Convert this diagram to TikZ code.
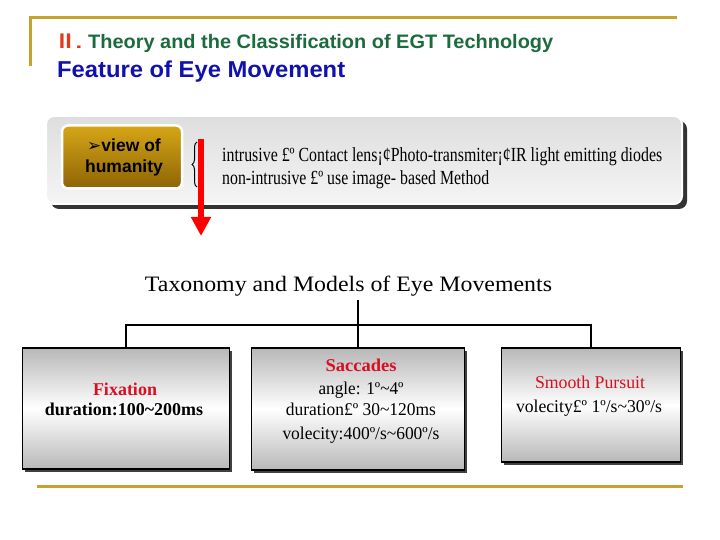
\documentclass[tikz,border=0pt]{standalone}
\usepackage{fontspec}
\setmainfont{Liberation Serif}
\newfontfamily\arialf{Liberation Sans}
\newfontfamily\djv{DejaVu Sans}
\usetikzlibrary{arrows.meta,shadows,decorations.pathreplacing}
\newcommand\fitx[2]{\resizebox{#1}{\height}{#2}}
\definecolor{goldl}{RGB}{200,162,46}
\definecolor{tred}{RGB}{230,56,26}
\definecolor{tgreen}{RGB}{27,107,62}
\definecolor{fblue}{RGB}{17,17,176}
\definecolor{bred}{RGB}{214,16,32}
\definecolor{btop}{RGB}{214,166,22}
\definecolor{bbot}{RGB}{140,100,6}
\tikzset{
  txt/.style={anchor=base, inner sep=0pt},
  tree/.style={draw=black, line width=1.5pt},
  catbox/.style={draw=black, line width=1.5pt, top color=black!28, bottom color=black!28, middle color=white,
     drop shadow={shadow xshift=2.5pt, shadow yshift=-2.5pt, fill=black!75, opacity=1}},
  goldrule/.style={draw=goldl, line width=3pt}
}
\begin{document}
\begin{tikzpicture}[x=1pt,y=-1pt]
\useasboundingbox[fill=white] (0,0) rectangle (720,540);
% gold rules
\coordinate (g0) at (30,66);
\coordinate (g1) at (30,18);
\coordinate (g2) at (677,18);
\draw[goldrule] (g0) -- (g1) -- (g2);
\coordinate (g3) at (37,486);
\coordinate (g4) at (683,486);
\draw[goldrule] (g3) -- (g4);
% titles
\node[anchor=base west, inner sep=0pt, text=tred] (rn) at (57,49) {\djv\fontsize{20}{20}\selectfont\fitx{27pt}{Ⅱ.}};
\node[anchor=base west, inner sep=0pt, text=tgreen] (t1) at (88,49) {\arialf\bfseries\fontsize{19.5}{19.5}\selectfont\fitx{465pt}{Theory and the Classification of EGT Technology}};
\node[anchor=base west, inner sep=0pt, text=fblue] (t2) at (57,78) {\arialf\bfseries\fontsize{23}{23}\selectfont\fitx{288pt}{Feature of Eye Movement}};
% panel
\node[draw=white, line width=2pt, rounded corners=8pt, top color=black!13, bottom color=black!4,
      minimum width=636pt, minimum height=88pt, inner sep=0pt,
      drop shadow={shadow xshift=5pt, shadow yshift=-5pt, fill=black!80, opacity=1}] (pan) at (364,160) {};
\node[draw=white, line width=2.5pt, rounded corners=6pt, top color=btop, bottom color=bbot,
      minimum width=120pt, minimum height=63pt, inner sep=0pt] (btn) at (122,157) {};
\node[align=center, inner sep=0pt, text=black, font=\arialf\bfseries\fontsize{17.5}{21}\selectfont] (btnt) at (124,157)
  {{\djv\mdseries\fontsize{17}{17}\selectfont ➢}view of\\humanity};
\coordinate (b1) at (197,187);
\coordinate (b2) at (197,142);
\draw[decorate, decoration={brace, amplitude=5pt}, line width=1pt] (b1) -- (b2);
\node[anchor=base west, inner sep=0pt] (l1) at (222,162) {\fontsize{20}{20}\selectfont\fitx{440pt}{intrusive £º Contact lens¡¢Photo-transmiter¡¢IR light emitting diodes}};
\node[anchor=base west, inner sep=0pt] (l2) at (222,185) {\fontsize{20}{20}\selectfont\fitx{267pt}{non-intrusive £º use image- based Method}};
% red arrow
\coordinate (a1) at (201,139);
\coordinate (a2) at (201,236);
\draw[red, line width=6pt, -{Triangle[width=19pt,length=19pt]}] (a1) -- (a2);
% taxonomy
\node[anchor=base, inner sep=0pt] (tax) at (348.5,291) {\fontsize{22}{22}\selectfont\fitx{407pt}{Taxonomy and Models of Eye Movements}};
\coordinate (j) at (358,325);
\coordinate (jt) at (358,300);
\node[catbox, minimum width=207pt, minimum height=121pt, inner sep=0pt] (fix) at (126,408.5) {};
\node[catbox, minimum width=213pt, minimum height=122pt, inner sep=0pt] (sac) at (358,409) {};
\node[catbox, minimum width=179pt, minimum height=114pt, inner sep=0pt] (smo) at (591,405) {};
\draw[tree] (jt) -- (j);
\draw[tree] (fix.north) -- (fix.north |- j) -- (smo.north |- j) -- (smo.north);
\draw[tree] (sac.north) -- (j);
% box texts
\node[txt, text=bred] (f1) at (125,395) {\bfseries\fontsize{18}{18}\selectfont\fitx{64pt}{Fixation}};
\node[txt] (f2) at (124,415) {\bfseries\fontsize{18}{18}\selectfont\fitx{158pt}{duration:100\textasciitilde200ms}};
\node[txt, text=bred] (s1) at (361,371) {\bfseries\fontsize{18}{18}\selectfont\fitx{71pt}{Saccades}};
\node[txt] (s2) at (361,394) {\fontsize{18}{18}\selectfont\fitx{85pt}{angle: 1º\textasciitilde4º}};
\node[txt] (s3) at (361,415) {\fontsize{18}{18}\selectfont\fitx{150pt}{duration£º 30\textasciitilde120ms}};
\node[txt] (s4) at (361,439) {\fontsize{18}{18}\selectfont\fitx{157pt}{volecity:400º/s\textasciitilde600º/s}};
\node[txt, text=bred] (p1) at (590,388) {\fontsize{18}{18}\selectfont\fitx{110pt}{Smooth Pursuit}};
\node[txt] (p2) at (589,412) {\fontsize{18}{18}\selectfont\fitx{146pt}{volecity£º 1º/s\textasciitilde30º/s}};
\end{tikzpicture}
\end{document}
